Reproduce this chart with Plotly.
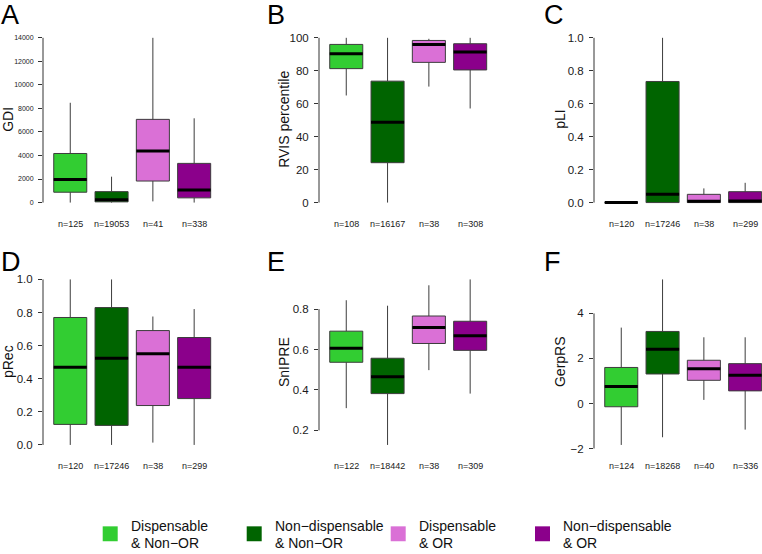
import plotly.graph_objects as go

# ---------------- data ----------------
groups = ["Dispensable\n& Non−OR", "Non−dispensable\n& Non−OR", "Dispensable\n& OR", "Non−dispensable\n& OR"]
colors = ["#32CD32", "#006400", "#DA70D6", "#8B008B"]

panel_letters = ["A", "B", "C", "D", "E", "F"]
y_titles = ["GDI", "RVIS percentile", "pLI", "pRec", "SnIPRE", "GerpRS"]

# GDI
gdi_low = [0, 0, 100, 0]
gdi_q1 = [880, 60, 1830, 400]
gdi_med = [1950, 230, 4390, 1070]
gdi_q3 = [4170, 930, 7070, 3330]
gdi_high = [8480, 2200, 14000, 7160]
gdi_n = [125, 19053, 41, 338]

# RVIS percentile
rvis_low = [65, 0, 70.4, 57.1]
rvis_q1 = [81.3, 24.2, 85.1, 80.5]
rvis_med = [90.3, 48.7, 96.0, 91.4]
rvis_q3 = [96.0, 73.7, 98.4, 96.4]
rvis_high = [100, 100, 99.4, 100]
rvis_n = [108, 16167, 38, 308]

# pLI
pli_low = [0, 0, 0, 0]
pli_q1 = [0, 0, 0, 0]
pli_med = [0, 0.05, 0.008, 0.01]
pli_q3 = [0, 0.735, 0.05, 0.066]
pli_high = [0, 1.0, 0.086, 0.12]
pli_n = [120, 17246, 38, 299]

# pRec
prec_low = [0, 0, 0.014, 0]
prec_q1 = [0.124, 0.118, 0.238, 0.28]
prec_med = [0.469, 0.523, 0.551, 0.469]
prec_q3 = [0.77, 0.83, 0.691, 0.649]
prec_high = [1.0, 1.0, 0.776, 0.821]
prec_n = [120, 17246, 38, 299]

# SnIPRE
snipre_low = [0.31, 0.128, 0.498, 0.382]
snipre_q1 = [0.537, 0.382, 0.630, 0.596]
snipre_med = [0.606, 0.465, 0.709, 0.668]
snipre_q3 = [0.691, 0.557, 0.766, 0.74]
snipre_high = [0.844, 0.817, 0.918, 0.947]
snipre_n = [122, 18442, 38, 309]

# GerpRS
gerp_low = [-1.84, -1.5, 0.16, -1.16]
gerp_q1 = [-0.145, 1.31, 1.03, 0.56]
gerp_med = [0.76, 2.41, 1.54, 1.25]
gerp_q3 = [1.6, 3.2, 1.92, 1.77]
gerp_high = [3.37, 5.51, 2.94, 2.94]
gerp_n = [124, 18268, 40, 336]

# tick values / labels
gdi_ticks = [0, 2000, 4000, 6000, 8000, 10000, 12000, 14000]
gdi_ticklabels = ["0", "2000", "4000", "6000", "8000", "10000", "12000", "14000"]
rvis_ticks = [0, 20, 40, 60, 80, 100]
rvis_ticklabels = ["0", "20", "40", "60", "80", "100"]
unit_ticks = [0, 0.2, 0.4, 0.6, 0.8, 1.0]
unit_ticklabels = ["0.0", "0.2", "0.4", "0.6", "0.8", "1.0"]
snipre_ticks = [0.2, 0.4, 0.6, 0.8]
snipre_ticklabels = ["0.2", "0.4", "0.6", "0.8"]
gerp_ticks = [-2, 0, 2, 4]
gerp_ticklabels = ["−2", "0", "2", "4"]

stats = [
    (gdi_low, gdi_q1, gdi_med, gdi_q3, gdi_high, gdi_n, gdi_ticks, gdi_ticklabels),
    (rvis_low, rvis_q1, rvis_med, rvis_q3, rvis_high, rvis_n, rvis_ticks, rvis_ticklabels),
    (pli_low, pli_q1, pli_med, pli_q3, pli_high, pli_n, unit_ticks, unit_ticklabels),
    (prec_low, prec_q1, prec_med, prec_q3, prec_high, prec_n, unit_ticks, unit_ticklabels),
    (snipre_low, snipre_q1, snipre_med, snipre_q3, snipre_high, snipre_n, snipre_ticks, snipre_ticklabels),
    (gerp_low, gerp_q1, gerp_med, gerp_q3, gerp_high, gerp_n, gerp_ticks, gerp_ticklabels),
]

# ---------------- layout geometry ----------------
W, H = 762, 554
FONT = "Liberation Sans, Arial, Helvetica, sans-serif"
col_axis_px = [43, 319, 594]          # left axis position of each column
px_per_unit = 41.3
row_domains = [(1 - 210.3 / H, 1 - 31.4 / H), (1 - 454.0 / H, 1 - 274.3 / H)]
title_x_px = [8, 284, 560]
title_y_px = [120.5, 364]
letter_x_px = [0, 266, 543]
letter_y_px = [15, 263]
nlabel_y_px = [225, 468.5]
box_width = 0.8
xr0 = 0.34

fig = go.Figure()
layout = dict(
    width=W, height=H, margin=dict(l=0, r=0, t=0, b=0),
    paper_bgcolor="white", plot_bgcolor="white",
    showlegend=False, boxmode="overlay",
    font=dict(family=FONT, color="#1a1a1a"),
)
annotations = []
shapes = []

for p, (low, q1, med, q3, high, n, tv, tt) in enumerate(stats):
    row, col = divmod(p, 3)
    idx = p + 1
    xa = "x" if idx == 1 else f"x{idx}"
    ya = "y" if idx == 1 else f"y{idx}"
    xkey = "xaxis" if idx == 1 else f"xaxis{idx}"
    ykey = "yaxis" if idx == 1 else f"yaxis{idx}"

    x0_px = col_axis_px[col]
    x1_px = min(x0_px + 4.32 * px_per_unit, W)
    xr1 = xr0 + (x1_px - x0_px) / px_per_unit

    dmin = min(low)
    dmax = max(high)
    pad = 0.04 * (dmax - dmin)

    layout[xkey] = dict(domain=[x0_px / W, x1_px / W], range=[xr0, xr1], anchor=ya,
                        showticklabels=False, showgrid=False, zeroline=False,
                        showline=False, ticks="")
    layout[ykey] = dict(domain=list(row_domains[row]), range=[dmin - pad, dmax + pad], anchor=xa,
                        showgrid=False, zeroline=False, showline=False,
                        ticks="outside", ticklen=4, tickwidth=1, tickcolor="#333333",
                        tickvals=tv, ticktext=tt, ticklabelstandoff=3,
                        tickfont=dict(size=7 if p == 0 else 11.5, family=FONT, color="#1a1a1a"))

    # boxes
    for i in range(4):
        fig.add_trace(go.Box(
            x=[i + 1], q1=[q1[i]], median=[med[i]], q3=[q3[i]],
            lowerfence=[low[i]], upperfence=[high[i]],
            fillcolor=colors[i], line=dict(color="#3c3c3c", width=1),
            width=box_width, whiskerwidth=0, boxpoints=False,
            xaxis=xa, yaxis=ya, hoverinfo="skip",
        ))
    # thick medians
    mx, my = [], []
    for i in range(4):
        mx += [i + 1 - box_width / 2, i + 1 + box_width / 2, None]
        my += [med[i], med[i], None]
    fig.add_trace(go.Scatter(x=mx, y=my, mode="lines", line=dict(color="black", width=3),
                             xaxis=xa, yaxis=ya, hoverinfo="skip"))

    # axis line spanning first..last tick (R style)
    shapes.append(dict(type="line", xref=f"{xa} domain", yref=ya, x0=0, x1=0,
                       y0=min(tv), y1=max(tv), line=dict(color="#333333", width=1)))

    # n labels (placed under each group position)
    for i in range(4):
        xpx = x0_px + (i + 1 - xr0) * px_per_unit
        annotations.append(dict(text=f"n={n[i]}", x=xpx / W, xref="paper",
                                y=1 - nlabel_y_px[row] / H, yref="paper",
                                showarrow=False, xanchor="center", yanchor="middle",
                                font=dict(size=9, family=FONT, color="#1a1a1a")))
    # axis title
    annotations.append(dict(text=y_titles[p], x=title_x_px[col] / W, xref="paper",
                            y=1 - title_y_px[row] / H, yref="paper", textangle=-90,
                            showarrow=False, xanchor="center", yanchor="middle",
                            font=dict(size=14, family=FONT, color="#111111")))
    # panel letter
    annotations.append(dict(text=panel_letters[p], x=letter_x_px[col] / W, xref="paper",
                            y=1 - letter_y_px[row] / H, yref="paper",
                            showarrow=False, xanchor="left", yanchor="middle",
                            borderpad=0,
                            font=dict(size=27, family=FONT, color="#000000")))

# legend (manual, R-style)
leg_sq_x = [102.7, 246.7, 390.7, 535.0]
leg_y_px = 536.7
leg_line_y_px = [529, 546]
sq = 15
for i, g in enumerate(groups):
    shapes.append(dict(type="rect", xref="paper", yref="paper",
                       x0=leg_sq_x[i] / W, x1=(leg_sq_x[i] + sq) / W,
                       y0=1 - (leg_y_px + sq / 2) / H, y1=1 - (leg_y_px - sq / 2) / H,
                       fillcolor=colors[i], line=dict(width=0)))
    for j, line in enumerate(g.split("\n")):
        annotations.append(dict(text=line, x=(leg_sq_x[i] + 26) / W, xref="paper",
                                y=1 - leg_line_y_px[j] / H, yref="paper", showarrow=False,
                                xanchor="left", yanchor="middle", align="left",
                                font=dict(size=14, family=FONT, color="#111111")))

layout["annotations"] = annotations
layout["shapes"] = shapes
fig.update_layout(**layout)
fig.write_html("out.html", config={"displayModeBar": False},
               post_script="document.body.style.margin='0';document.body.style.padding='0';")
